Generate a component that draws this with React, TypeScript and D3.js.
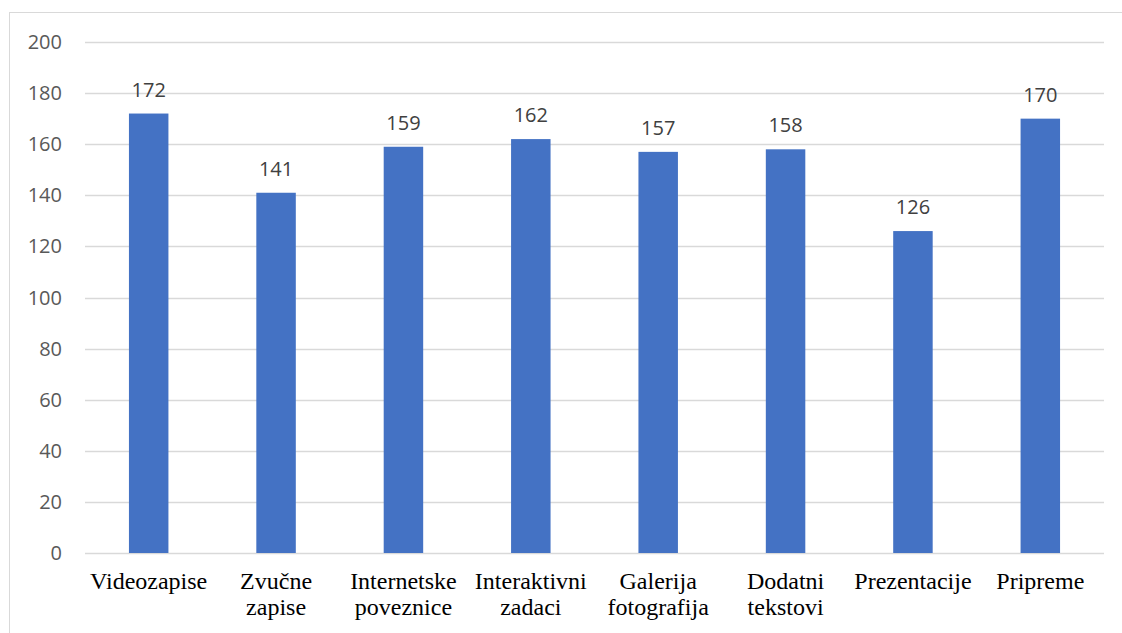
import { useEffect, useRef } from "react"
import * as d3 from "d3"

const categories = [
  "Videozapise",
  "Zvučne\nzapise",
  "Internetske\npoveznice",
  "Interaktivni\nzadaci",
  "Galerija\nfotografija",
  "Dodatni\ntekstovi",
  "Prezentacije",
  "Pripreme",
]
const values = [172, 141, 159, 162, 157, 158, 126, 170]
const yTicks = [0, 20, 40, 60, 80, 100, 120, 140, 160, 180, 200]

export default function App() {
  const svgRef = useRef<SVGSVGElement>(null)

  useEffect(() => {
    if (!svgRef.current) return
    const svg = d3.select(svgRef.current)
    svg.selectAll("*").remove()

    const width = 1122
    const height = 633
    const margin = { top: 42, right: 18, bottom: 80, left: 85 }
    const innerWidth = width - margin.left - margin.right
    const innerHeight = height - margin.top - margin.bottom

    const data = categories.map((name, i) => ({ name, value: values[i] }))

    // chart frame
    svg.append("rect")
      .attr("x", 9.5)
      .attr("y", 12.5)
      .attr("width", width + 10)
      .attr("height", height + 10)
      .attr("fill", "white")
      .attr("stroke", "#d9d9d9")

    const x = d3.scaleBand()
      .domain(categories)
      .range([0, innerWidth])
      .paddingInner(0.69)
      .paddingOuter(0.345)

    const y = d3.scaleLinear().domain([0, 200]).range([innerHeight, 0])

    const g = svg.append("g").attr("transform", `translate(${margin.left},${margin.top})`)

    // gridlines
    g.selectAll(".grid")
      .data(yTicks)
      .enter()
      .append("line")
      .attr("x1", 0)
      .attr("x2", innerWidth)
      .attr("y1", (d) => Math.round(y(d)) + 0.5)
      .attr("y2", (d) => Math.round(y(d)) + 0.5)
      .attr("stroke", "#d9d9d9")
      .attr("stroke-width", 1.3)

    // y labels
    g.selectAll(".ylabel")
      .data(yTicks)
      .enter()
      .append("text")
      .attr("x", -23)
      .attr("y", (d) => y(d))
      .attr("dy", "0.35em")
      .attr("text-anchor", "end")
      .attr("fill", "#595959")
      .attr("font-family", "'Open Sans', 'Noto Sans', sans-serif")
      .attr("font-size", "20px")
      .text((d) => d)

    // bars
    g.selectAll(".bar")
      .data(data)
      .enter()
      .append("rect")
      .attr("x", (d) => x(d.name) || 0)
      .attr("y", (d) => y(d.value))
      .attr("width", x.bandwidth())
      .attr("height", (d) => innerHeight - y(d.value))
      .attr("fill", "#4472c4")

    // value labels
    g.selectAll(".label")
      .data(data)
      .enter()
      .append("text")
      .attr("x", (d) => (x(d.name) || 0) + x.bandwidth() / 2)
      .attr("y", (d) => y(d.value) - 17)
      .attr("text-anchor", "middle")
      .attr("fill", "#404040")
      .attr("font-family", "'Open Sans', 'Noto Sans', sans-serif")
      .attr("font-size", "20px")
      .text((d) => d.value)

    // category labels
    const cat = g.selectAll(".cat")
      .data(categories)
      .enter()
      .append("text")
      .attr("x", (d) => (x(d) || 0) + x.bandwidth() / 2)
      .attr("y", innerHeight + 36)
      .attr("text-anchor", "middle")
      .attr("fill", "#000")
      .attr("font-family", "'Liberation Serif', 'Times New Roman', serif")
      .attr("font-size", "24px")

    cat.selectAll("tspan")
      .data((d) => d.split("\n"))
      .enter()
      .append("tspan")
      .attr("x", function () {
        return (this.parentNode as SVGTextElement).getAttribute("x")
      })
      .attr("dy", (_, i) => (i === 0 ? 0 : 26))
      .text((d) => d)
  }, [])

  return (
    <svg
      ref={svgRef}
      width={1122}
      height={633}
      style={{ position: "absolute", left: 0, top: 0, background: "white" }}
    />
  )
}
